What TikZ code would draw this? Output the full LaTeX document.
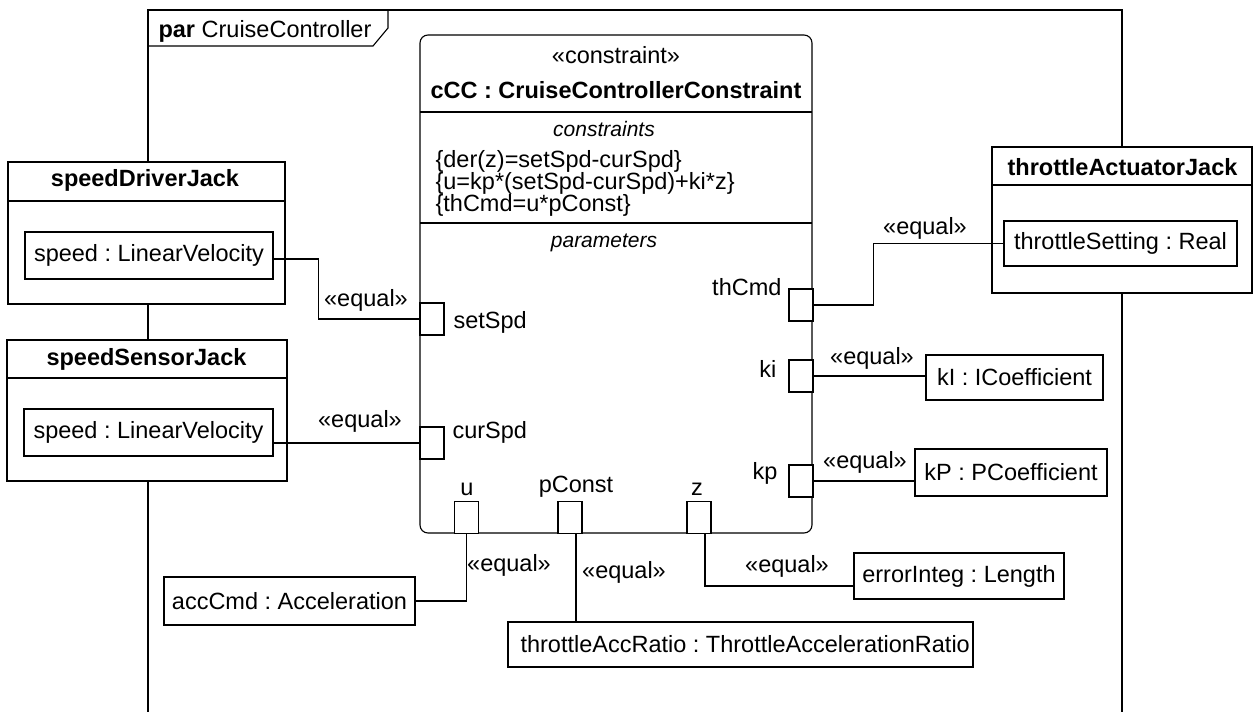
\documentclass[tikz,border=0pt]{standalone}
\usepackage{fontspec}
\setmainfont{Liberation Sans}
\usetikzlibrary{calc}
\begin{document}
\frenchspacing
\begin{tikzpicture}[x=1pt,y=-1pt, line width=1.1pt,
  every node/.style={font=\fontsize{23.5}{27}\selectfont\frenchspacing, inner sep=0pt},
  box/.style={draw, fill=white, inner sep=0pt},
  port/.style={draw, fill=white, minimum width=24pt, minimum height=32pt, inner sep=0pt},
  ttl/.style={font=\fontsize{23.5}{27}\selectfont\bfseries\frenchspacing},
  comp/.style={font=\fontsize{21}{24}\selectfont\itshape}
]
\useasboundingbox (0,0) rectangle (1254,712);
% frame
\draw (148,712) -- (148,10) -- (1122,10) -- (1122,712);
\draw (148,46) -- (373,46) -- (388,28) -- (388,10);
\node[anchor=west] (frameLabel) at (158,31) {\textbf{par} CruiseController};

% constraint block
\node[box, rounded corners=8pt, minimum width=392pt, minimum height=498pt] (ccc) at (616,284) {};
\draw (420,112) -- (812,112);
\draw (420,223) -- (812,223);
\node (stereo) at (616,55) {«constraint»};
\node[ttl] (cccName) at (616,90) {cCC : CruiseControllerConstraint};
\node[comp] (constrHdr) at (604,129) {constraints};
\node[anchor=west] (c1) at (435,161) {\{der(z)=setSpd-curSpd\}};
\node[anchor=west] (c2) at (435,183) {\{u=kp*(setSpd-curSpd)+ki*z\}};
\node[anchor=west] (c3) at (435,205) {\{thCmd=u*pConst\}};
\node[comp] (paramHdr) at (604,243) {parameters};

% ports
\node[port] (setSpd) at (432,319) {};
\node[port] (curSpd) at (432,443) {};
\node[port] (thCmd) at (801,305) {};
\node[port] (ki) at (801,376) {};
\node[port] (kp) at (801,481) {};
\node[port] (u) at (466.5,517.5) {};
\node[port] (pc) at (570,517.5) {};
\node[port] (zp) at (699,517.5) {};
\node[anchor=west] (lsetSpd) at (453,322) {setSpd};
\node[anchor=west] (lcurSpd) at (452,432) {curSpd};
\node[anchor=east] (lthCmd) at (782,287) {thCmd};
\node[anchor=east] (lki) at (777,369) {ki};
\node[anchor=east] (lkp) at (778,473) {kp};
\node (lu) at (467,489) {u};
\node (lpc) at (576,487) {pConst};
\node (lz) at (697,489) {z};

% left blocks
\node[box, minimum width=277pt, minimum height=142pt] (sdj) at (146.5,233) {};
\draw (8,201) -- (285,201);
\node[ttl] (sdjT) at (145,180) {speedDriverJack};
\node[box, minimum width=248pt, minimum height=47pt] (sdjp) at (149,255.5) {speed : LinearVelocity};

\node[box, minimum width=280pt, minimum height=141pt] (ssj) at (147,410.5) {};
\draw (7,378) -- (287,378);
\node[ttl] (ssjT) at (146.5,359) {speedSensorJack};
\node[box, minimum width=249pt, minimum height=47pt] (ssjp) at (148.5,432.5) {speed : LinearVelocity};

% right block
\node[box, minimum width=260pt, minimum height=146pt] (taj) at (1122,220) {};
\draw (992,185) -- (1252,185);
\node[ttl] (tajT) at (1122.5,167) {throttleActuatorJack};
\node[box, minimum width=233pt, minimum height=45pt] (tajp) at (1120.5,243.5) {throttleSetting : Real};

% value boxes
\node[box, minimum width=177pt, minimum height=45pt] (kI) at (1014.5,377.5) {kI : ICoefficient};
\node[box, minimum width=192pt, minimum height=47pt] (kP) at (1011,472.5) {kP : PCoefficient};
\node[box, minimum width=210pt, minimum height=46pt] (eI) at (959,576) {errorInteg : Length};
\node[box, minimum width=251pt, minimum height=48pt] (acc) at (289.5,601) {accCmd : Acceleration};
\node[box, minimum width=465pt, minimum height=45pt] (tar) at (740.5,644.5) {};
\node[anchor=west] (tarT) at (520,644.5) {throttleAccRatio : ThrottleAccelerationRatio};

% connectors
\draw ([yshift=-3.5pt]sdjp.east) -- ++(45,0) |- (setSpd.west);
\node (eq1) at (366,300) {«equal»};
\draw (ssjp.east |- curSpd.west) -- (curSpd.west);
\node (eq2) at (360,421) {«equal»};
\draw (thCmd.east) -- ++(60,0) |- (tajp.west);
\node (eq3) at (925,228) {«equal»};
\draw (ki.east) -- (ki.east -| kI.west);
\node (eq4) at (872,358) {«equal»};
\draw (kp.east) -- (kp.east -| kP.west);
\node (eq5) at (865,462) {«equal»};
\draw ([xshift=6pt]zp.south) |- ([yshift=-10pt]eI.west);
\node (eq6) at (787,566) {«equal»};
\draw (u.south) |- (acc.east);
\node (eq7) at (509,565) {«equal»};
\draw ([xshift=6pt]pc.south) -- ([xshift=6pt]pc.south |- tar.north);
\node (eq8) at (624,572) {«equal»};
\end{tikzpicture}
\end{document}
